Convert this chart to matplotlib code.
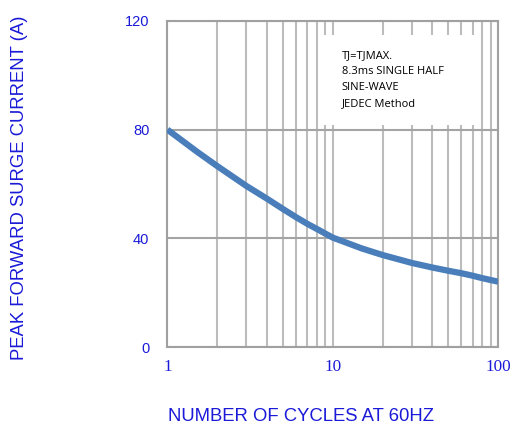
import numpy as np
import matplotlib.pyplot as plt
from matplotlib.patches import Rectangle

# surge current vs number of cycles
cycles = [1, 1.5, 2, 3, 4, 5, 6, 7, 8, 9, 10, 15, 20, 30, 40, 50, 60, 70, 80, 100]
current = [80, 72, 66.6, 59.3, 54.6, 50.8, 47.8, 45.4, 43.5, 41.8, 40.3,
           36.3, 33.9, 31.0, 29.3, 28.1, 27.2, 26.3, 25.4, 24.1]

yticks = [0, 40, 80, 120]
xticks = [1, 10, 100]
note_lines = ["TJ=TJMAX.", "8.3ms SINGLE HALF", "SINE-WAVE", "JEDEC Method"]

blue = "#1a1ad8"
gridc = "#bcbcbc"

fig = plt.figure(figsize=(5.12, 4.25), dpi=100)
ax = fig.add_axes([0.327, 0.183, 0.646, 0.768])

ax.set_xscale("log")
ax.set_xlim(1, 100)
ax.set_ylim(0, 120)
ax.grid(True, which="both", axis="x", color=gridc, lw=1.5)
ax.grid(True, which="major", axis="y", color="#a4a4a4", lw=1.5)
ax.set_axisbelow(True)

# white note box covers the grid
ax.add_patch(Rectangle((0.461, 0.682), 0.47, 0.276, transform=ax.transAxes,
                       facecolor="white", edgecolor="none", zorder=2.5))
for i, line in enumerate(note_lines):
    ax.text(0.527, 0.8865 - 0.049 * i, line, transform=ax.transAxes, fontsize=8,
            family="Open Sans", va="baseline", ha="left", zorder=3)

ax.plot(cycles, current, color="#4a7ebb", lw=4.5, solid_capstyle="butt", zorder=4)

ax.set_yticks(yticks)
ax.set_xticks(xticks)
ax.set_xticklabels([str(v) for v in xticks], family="Liberation Serif", fontsize=12.3, color=blue)
ax.set_yticklabels([str(v) for v in yticks], family="Liberation Sans", fontsize=10.5, color=blue)
ax.tick_params(axis="both", which="both", length=0)
ax.tick_params(axis="y", pad=13)
ax.tick_params(axis="x", pad=8.6)
ax.xaxis.set_minor_formatter(plt.NullFormatter())

for s in ax.spines.values():
    s.set_color("#a0a0a0")
    s.set_linewidth(1.5)

fig.text(0.588, 0.01, "NUMBER OF CYCLES AT 60HZ", family="Liberation Sans", fontsize=13.3,
         color=blue, ha="center", va="baseline")
fig.text(0.039, 0.559, "PEAK FORWARD SURGE CURRENT (A)", family="Liberation Sans", fontsize=13.3,
         color=blue, ha="center", va="center", rotation=90)

fig.savefig("out.png", dpi=100)
